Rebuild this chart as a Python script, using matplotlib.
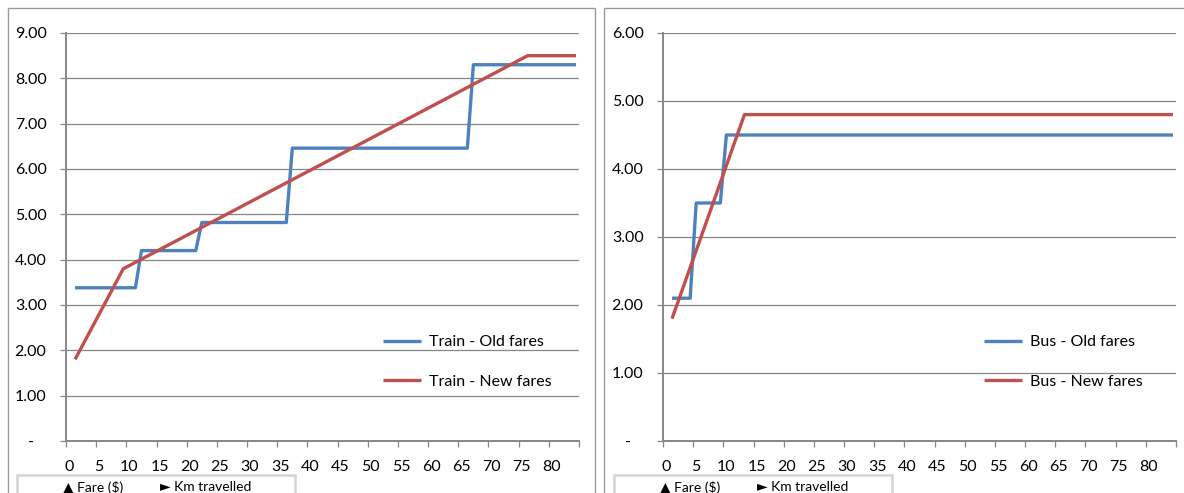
import matplotlib
matplotlib.use('Agg')
from matplotlib import pyplot as plt
from matplotlib.patches import Rectangle

plt.rcParams['font.family'] = ['Lato', 'DejaVu Sans']

# km travelled (category index) and fare at each break point
train_old_km = [1, 11, 12, 21, 22, 36, 37, 66, 67, 84]
train_old_fare = [3.38, 3.38, 4.20, 4.20, 4.82, 4.82, 6.46, 6.46, 8.30, 8.30]
train_new_km = [1, 9, 76, 84]
train_new_fare = [1.80, 3.80, 8.50, 8.50]

bus_old_km = [1, 4, 5, 9, 10, 84]
bus_old_fare = [2.10, 2.10, 3.50, 3.50, 4.50, 4.50]
bus_new_km = [1, 13, 84]
bus_new_fare = [1.80, 4.80, 4.80]

km_labels = list(range(0, 81, 5))
train_yticks = [0, 1, 2, 3, 4, 5, 6, 7, 8, 9]
bus_yticks = [0, 1, 2, 3, 4, 5, 6]

BLUE = '#4F81BD'
RED = '#C0504D'
GRID = '#878787'
W, H = 1184, 493


def fx(px):
    return px / W


def fy(py):
    return 1 - py / H


def fare_fmt(v):
    return '-   ' if v == 0 else '{:.2f}'.format(v)


def draw_panel(fig, ax_left, old_km, old_fare, new_km, new_fare, yticks, names, leg_x, box_x):
    ax = fig.add_axes([fx(ax_left), fy(441), fx(513), 408 / H])
    ax.plot(old_km, old_fare, color=BLUE, lw=2.4, label=names[0], solid_capstyle='butt')
    ax.plot(new_km, new_fare, color=RED, lw=2.4, label=names[1], solid_capstyle='butt')

    ax.set_xlim(-0.5, 84.5)
    ax.set_ylim(0, yticks[-1])
    ax.set_yticks(yticks)
    ax.set_yticklabels([fare_fmt(v) for v in yticks])
    ax.yaxis.grid(True, color=GRID, lw=0.9)
    ax.set_axisbelow(True)

    ax.set_xticks([k - 0.5 for k in range(0, 86, 5)])
    ax.set_xticklabels([])
    ax.set_xticks(km_labels, minor=True)
    ax.set_xticklabels([str(k) for k in km_labels], minor=True)
    ax.tick_params(axis='x', which='major', length=4, color=GRID, width=0.9)
    ax.tick_params(axis='x', which='minor', length=0, pad=14, labelsize=11.5)
    ax.tick_params(axis='y', length=4, color=GRID, width=0.9, pad=10, labelsize=11.5)

    for s in ['top', 'right']:
        ax.spines[s].set_visible(False)
    for s in ['left', 'bottom']:
        ax.spines[s].set_color(GRID)
        ax.spines[s].set_linewidth(1.4)

    ax.legend(loc='upper left', bbox_to_anchor=(fx(leg_x), fy(335)),
              bbox_transform=fig.transFigure, frameon=False,
              fontsize=11.5, handlelength=2.4, handletextpad=0.45, labelspacing=1.6,
              borderpad=0, borderaxespad=0)

    # axis caption box below the chart
    fig.patches.append(Rectangle((fx(box_x), fy(500)), fx(278), (500 - 475) / H,
                                 transform=fig.transFigure, fill=False,
                                 edgecolor='#D4D4D4', lw=1.8))
    fig.text(fx(box_x + 46), fy(487), '▲ Fare ($)', fontsize=10, va='center')
    fig.text(fx(box_x + 143), fy(487), '► Km travelled', fontsize=10, va='center')
    return ax


fig = plt.figure(figsize=(W / 100, H / 100), dpi=100)

# chart area frames
fig.patches.append(Rectangle((fx(8), fy(520)), fx(587), (520 - 8) / H,
                             transform=fig.transFigure, fill=False, edgecolor='#9A9A9A', lw=1))
fig.patches.append(Rectangle((fx(604), fy(520)), fx(620), (520 - 8) / H,
                             transform=fig.transFigure, fill=False, edgecolor='#9A9A9A', lw=1))

draw_panel(fig, 66, train_old_km, train_old_fare, train_new_km, train_new_fare,
           train_yticks, ['Train - Old fares', 'Train - New fares'], 383, 17)
draw_panel(fig, 663, bus_old_km, bus_old_fare, bus_new_km, bus_new_fare,
           bus_yticks, ['Bus - Old fares', 'Bus - New fares'], 984, 614)

fig.savefig('out.png', dpi=100)
